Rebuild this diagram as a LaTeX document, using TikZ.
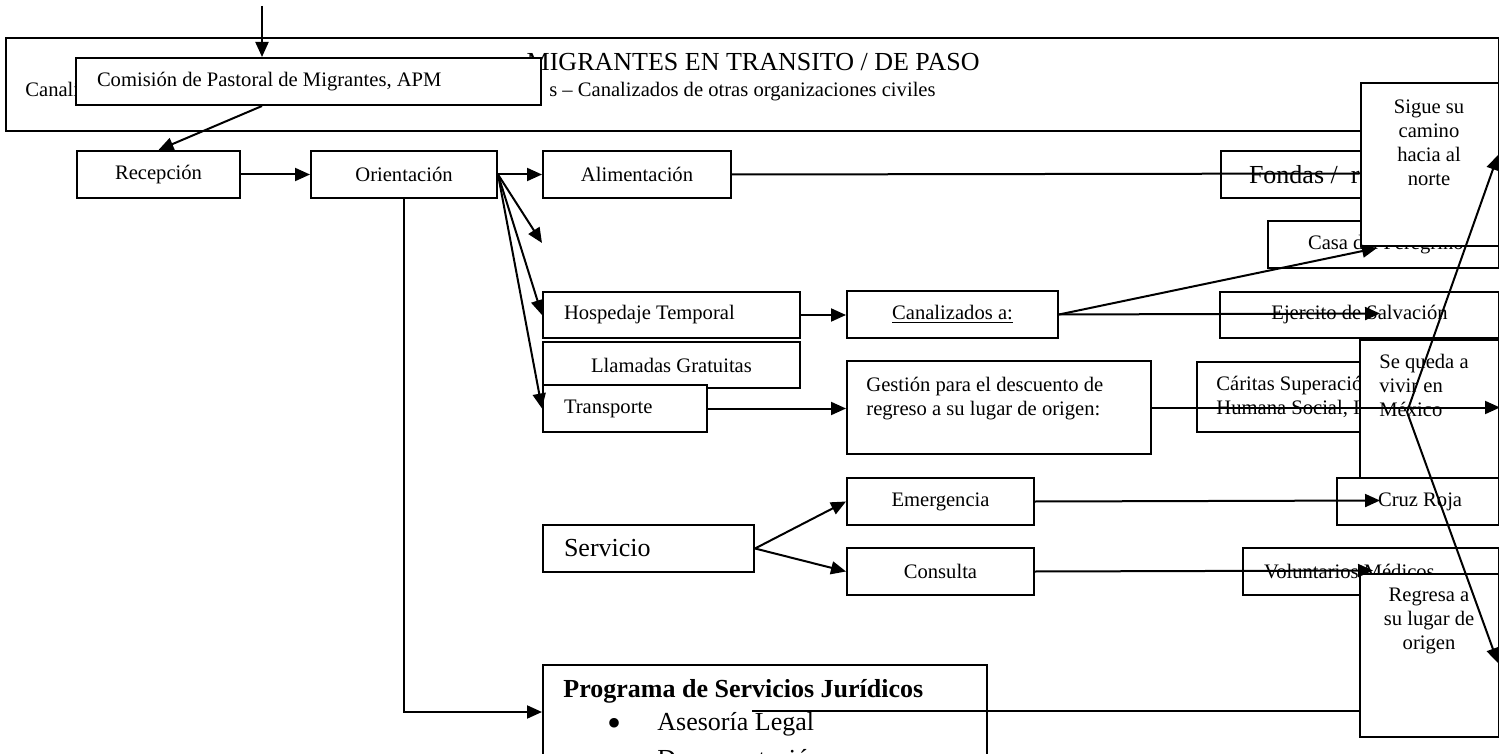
\documentclass[tikz,border=0pt]{standalone}
\usepackage{fontspec}
\setmainfont{Liberation Serif}
\usetikzlibrary{arrows.meta}
\newlength\pu \setlength\pu{0.5pt}
\newcommand\fn{\fontsize{10.3}{12}\selectfont}
\newcommand\fb{\fontsize{13}{15.5}\selectfont}
\newcommand\lftx[3]{\makebox[#1\pu][l]{\hspace*{#2\pu}#3}}
\tikzset{
 box/.style={draw, fill=white, line width=1pt, inner sep=0pt, anchor=north west, font=\fn},
 sz/.style 2 args={minimum width=#1*0.5pt, minimum height=#2*0.5pt},
 arr/.style={line width=1pt, -{Triangle[length=7.5pt,width=6.5pt]}},
 ln/.style={line width=1pt},
 txt/.style={inner sep=0pt, font=\fn},
}
\begin{document}
\begin{tikzpicture}[x=0.5pt,y=-0.5pt]
\useasboundingbox (0,0) rectangle (1499,754);
\clip (0,0) rectangle (1499,754);
% header
\node[box, sz={1493}{93}] (big) at (5,37) {};
\node[txt, font=\fb, anchor=base east] (title) at (980,71) {MIGRANTES EN TRANSITO / DE PASO};
\node[txt, anchor=base west] (sub1) at (25,97) {Canaliz};
\node[txt, anchor=base east] (sub2) at (936,97) {s – Canalizados de otras organizaciones civiles};
\node[box, sz={465}{47}] (com) at (75,57) {\lftx{465}{21}{Comisión de Pastoral de Migrantes, APM}};
% first row
\node[box, sz={163}{47}] (rec) at (76,150) {Recepción};
\node[box, sz={186}{47}] (ori) at (310,150) {Orientación};
\node[box, sz={188}{47}] (ali) at (542,150) {Alimentación};
\node[box, sz={278}{47}, font=\fb] (fon) at (1220,150) {\lftx{278}{28}{Fondas /\ \ restaurantes}};
\node[box, sz={231}{47}] (cas) at (1267,220) {\lftx{231}{40}{Casa del Peregrino}};
\draw[ln] (ali.east) -- (1360,173.5);
\node[box, sz={138}{163}] (sig) at (1360,82) {};
\node[txt, align=center, anchor=north] (sigt) at (1429,99) {Sigue su\\camino\\hacia al\\norte};
% middle
\node[box, sz={257}{46}] (hos) at (542,291) {\lftx{257}{21}{Hospedaje Temporal}};
\node[box, sz={257}{46}] (lla) at (542,341) {Llamadas Gratuitas};
\node[box, sz={164}{47}] (tra) at (542,384) {\lftx{164}{21}{Transporte}};
\node[box, sz={211}{47}] (can) at (846,290) {\underline{Canalizados a:}};
\node[box, sz={279}{46}] (eje) at (1219,291) {Ejercito de Salvación};
\node[box, sz={304}{93}] (ges) at (846,360) {};
\node[txt, align=left, anchor=north west] (gest) at (866,377) {Gestión para el descuento de\\regreso a su lugar de origen:};
\node[box, sz={302}{70}] (car) at (1196,361) {};
\node[txt, align=left, anchor=north west] (cart) at (1216,376) {Cáritas Superación\\Humana Social, I.A.P.};
\node[box, sz={139}{140}] (seq) at (1359,339) {};
\node[txt, align=left, anchor=north west] (seqt) at (1379,354) {Se queda a\\vivir en\\México};
\node[box, sz={162}{47}] (cru) at (1336,477) {\lftx{162}{41}{Cruz Roja}};
\node[box, sz={211}{47}] (ser) at (542,524) {\lftx{211}{21}{\fb Servicio}};
\node[box, sz={187}{47}] (eme) at (846,477) {Emergencia};
\node[box, sz={187}{47}] (con) at (846,547) {Consulta};
\node[box, sz={256}{47}] (vol) at (1242,547) {\lftx{256}{21}{Voluntarios Médicos}};
\node[box, sz={139}{163}] (reg) at (1359,573) {};
\node[txt, align=center, anchor=north] (regt) at (1429,588) {Regresa a\\su lugar de\\origen};
% bottom
\node[box, sz={444}{94}] (pro) at (542,664) {};
\node[txt, font=\fb\bfseries, anchor=base west] (prot) at (563,697) {Programa de Servicios Jurídicos};
\node[txt, font=\fontsize{20}{22}\selectfont, anchor=center] (b1) at (614,727) {\textbullet};
\node[txt, font=\fb, anchor=base west] (ase) at (657,730) {Asesoría Legal};
\node[txt, font=\fb, anchor=base west] (doc) at (657,767) {Documentación};
% connectors
\coordinate (topin) at (262,6);
\draw[arr] (topin) -- (topin |- com.north);
\draw[arr] (topin |- com.south) -- (rec.north);
\draw[arr] (rec.east) -- (ori.west);
\draw[arr] (ori.east) -- (ali.west);
\coordinate (dang) at (542,243);
\draw[arr] (ori.east) -- (dang);
\draw[arr] (ori.east) -- (hos.west);
\draw[arr] (ori.east) -- (tra.west);
\draw[arr] (ori.south) |- (pro.west);
\draw[arr] (hos.east) -- (can.west |- hos.east);
\coordinate (casin) at (1377,248);
\draw[arr] (can.east) -- (casin);
\coordinate (ejein) at (1380,313.5);
\draw[arr] (can.east) -- (ejein);
\draw[arr] (tra.east) -- (ges.west |- tra.east);
\draw[arr] (ges.east) -- (seq.east |- ges.east);
\draw[arr] (ser.east) -- (eme.west);
\draw[arr] (ser.east) -- (con.west);
\coordinate (cruin) at (1380,500.5);
\draw[arr] (eme.east) -- (cruin);
\coordinate (volin) at (1373,570.5);
\draw[arr] (con.east) -- (volin);
\coordinate (proout) at (752,711);
\draw[ln] (proout) -- (reg.west |- proout);
\coordinate (fork) at (1407,412);
\coordinate (sigin) at (1498,155);
\coordinate (regin) at (1498,663);
\draw[arr] (fork) -- (sigin);
\draw[arr] (fork) -- (regin);
\end{tikzpicture}
\end{document}
